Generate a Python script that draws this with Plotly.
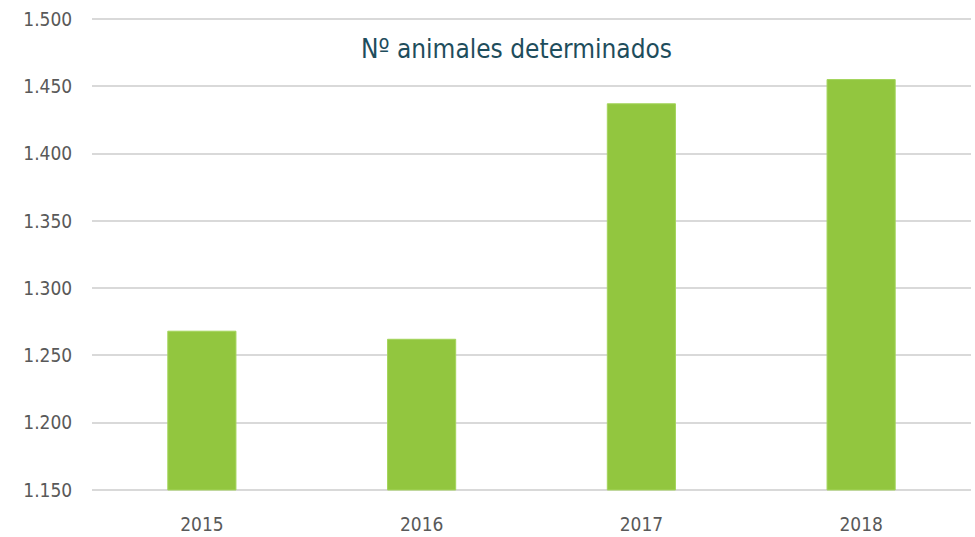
import plotly.graph_objects as go

years = ["2015", "2016", "2017", "2018"]
animales = [1268, 1262, 1437, 1455]
y_ticks = [1150, 1200, 1250, 1300, 1350, 1400, 1450, 1500]
title_text = "Nº animales determinados"
base_value = 1150

FONT = "DejaVu Sans Condensed, Liberation Sans Narrow, Arial Narrow, sans-serif"

fig = go.Figure(go.Bar(
    x=years, y=[v - base_value for v in animales], base=base_value,
    customdata=animales, hovertemplate="%{x}: %{customdata}<extra></extra>",
    marker=dict(color="#92C63F", line=dict(color="#A3D45A", width=1)),
))

fig.update_layout(
    width=975, height=537,
    margin=dict(l=92, r=4, t=17, b=45),
    paper_bgcolor="white", plot_bgcolor="white",
    separators=",.",
    bargap=0.69,
    showlegend=False,
    font=dict(family=FONT, color="#595959", size=19),
    annotations=[dict(
        text=title_text, xref="paper", yref="paper", x=0.483, y=0.932,
        xanchor="center", yanchor="middle", showarrow=False,
        font=dict(family=FONT, size=26, color="#1E4D5C"),
    )],
)
fig.update_yaxes(
    range=[1148.5, 1501.5], tickvals=y_ticks, tickformat=",d",
    showgrid=True, gridcolor="#D9D9D9", gridwidth=2,
    zeroline=False, showline=False, automargin=False,
    ticks="outside", ticklen=15, tickcolor="rgba(0,0,0,0)",
)
fig.update_xaxes(
    showgrid=False, showline=False, automargin=False,
    ticks="outside", ticklen=15, tickcolor="rgba(0,0,0,0)",
)

fig.write_html(
    "out.html",
    config={"displayModeBar": False},
    post_script="document.body.style.margin='0';document.body.style.overflow='hidden';",
)
